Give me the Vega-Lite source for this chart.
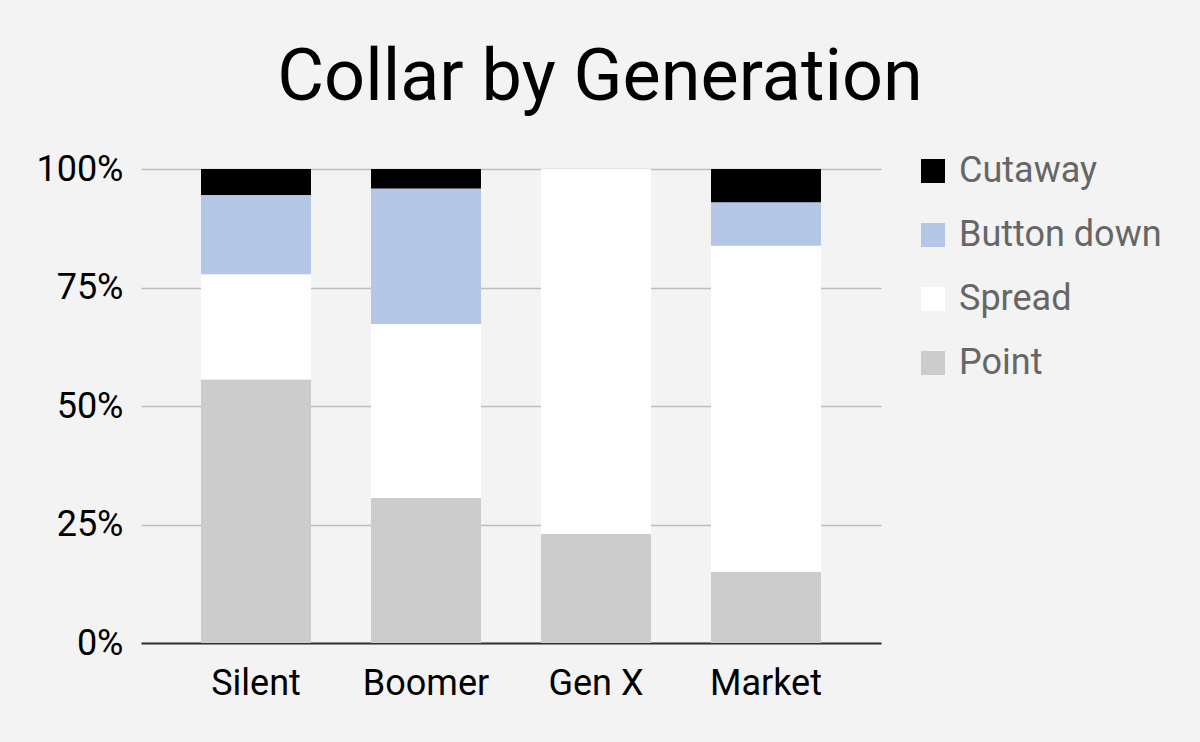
{
  "$schema": "https://vega.github.io/schema/vega-lite/v6.json",
  "width": 740,
  "height": 474,
  "autosize": {"type": "none"},
  "padding": {"left": 141, "top": 169, "right": 319, "bottom": 99},
  "background": "#f3f3f3",
  "title": {
    "text": "Collar by Generation",
    "font": "Roboto",
    "fontSize": 72,
    "fontWeight": "normal",
    "color": "#000000",
    "anchor": "middle",
    "frame": "group",
    "dx": 89,
    "dy": 85,
    "baseline": "alphabetic",
    "offset": 64
  },
  "data": {
    "values": [
      {"generation": "Silent", "collar": "Point", "share": 0.556},
      {"generation": "Silent", "collar": "Spread", "share": 0.222},
      {"generation": "Silent", "collar": "Button down", "share": 0.167},
      {"generation": "Silent", "collar": "Cutaway", "share": 0.055},
      {"generation": "Boomer", "collar": "Point", "share": 0.306},
      {"generation": "Boomer", "collar": "Spread", "share": 0.367},
      {"generation": "Boomer", "collar": "Button down", "share": 0.286},
      {"generation": "Boomer", "collar": "Cutaway", "share": 0.041},
      {"generation": "Gen X", "collar": "Point", "share": 0.23},
      {"generation": "Gen X", "collar": "Spread", "share": 0.77},
      {"generation": "Market", "collar": "Point", "share": 0.15},
      {"generation": "Market", "collar": "Spread", "share": 0.688},
      {"generation": "Market", "collar": "Button down", "share": 0.092},
      {"generation": "Market", "collar": "Cutaway", "share": 0.07}
    ]
  },
  "transform": [
    {"calculate": "indexof(['Point', 'Spread', 'Button down', 'Cutaway'], datum.collar)", "as": "stackRank"}
  ],
  "mark": {"type": "bar"},
  "encoding": {
    "x": {
      "field": "generation",
      "type": "nominal",
      "sort": ["Silent", "Boomer", "Gen X", "Market"],
      "scale": {"paddingInner": 0.353, "paddingOuter": 0.353},
      "axis": {
        "title": null,
        "labelAngle": 0,
        "labelFont": "Roboto",
        "labelFontSize": 36,
        "labelColor": "#000000",
        "labelPadding": 23,
        "ticks": false,
        "domain": true,
        "domainColor": "#333333",
        "domainWidth": 2,
        "grid": false
      }
    },
    "y": {
      "field": "share",
      "type": "quantitative",
      "stack": "zero",
      "scale": {"domain": [0, 1], "nice": false},
      "axis": {
        "title": null,
        "values": [0, 0.25, 0.5, 0.75, 1],
        "format": ".0%",
        "labelFont": "Roboto",
        "labelFontSize": 36,
        "labelColor": "#000000",
        "labelPadding": 18,
        "ticks": false,
        "domain": false,
        "grid": true,
        "gridColor": "#bdbdbd",
        "gridWidth": 1.7
      }
    },
    "order": {"field": "stackRank", "type": "quantitative", "sort": "ascending"},
    "color": {
      "field": "collar",
      "type": "nominal",
      "scale": {
        "domain": ["Cutaway", "Button down", "Spread", "Point"],
        "range": ["#000000", "#b4c7e7", "#ffffff", "#cccccc"]
      },
      "legend": {
        "title": null,
        "orient": "none",
        "legendX": 774,
        "legendY": -16,
        "symbolType": "square",
        "symbolSize": 576,
        "symbolStrokeWidth": 0,
        "labelFont": "Roboto",
        "labelFontSize": 36,
        "labelColor": "#666666",
        "labelOffset": 8,
        "labelLimit": 400,
        "rowPadding": 28
      }
    }
  },
  "config": {
    "view": {"stroke": null}
  }
}
